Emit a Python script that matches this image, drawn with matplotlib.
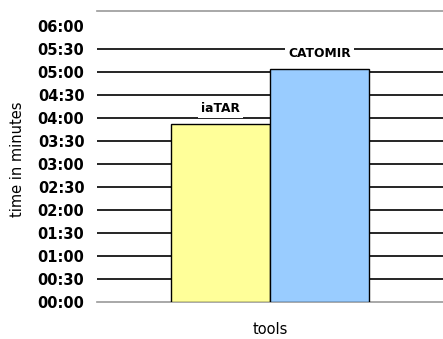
import matplotlib
matplotlib.use("Agg")
import matplotlib.pyplot as plt

categories = ["iaTAR", "CATOMIR"]
values_min = [3.87, 5.07]  # time in minutes
bar_colors = ["#FFFF99", "#99CCFF"]
tick_values = [0, 0.5, 1, 1.5, 2, 2.5, 3, 3.5, 4, 4.5, 5, 5.5, 6]
tick_labels = ["00:00", "00:30", "01:00", "01:30", "02:00", "02:30", "03:00",
               "03:30", "04:00", "04:30", "05:00", "05:30", "06:00"]

fig = plt.figure(figsize=(4.43, 3.39), dpi=100)
ax = fig.add_axes([97/443, 1 - 302/339, 1 - 97/443, (302 - 11)/339])

x = list(range(len(categories)))
bars = ax.bar(x, values_min, width=1.0, color=bar_colors, edgecolor="black",
              linewidth=1.0, zorder=3)
for xi, v, name in zip(x, values_min, categories):
    ax.annotate(name, (xi, v), xytext=(0, 11), textcoords="offset points",
                ha="center", va="center", fontsize=8.8, fontweight="bold",
                bbox=dict(boxstyle="square,pad=0.25", fc="white", ec="none"),
                zorder=4)

ax.set_xlim(-1.247, 2.247)
ax.set_ylim(0, 6.33)
ax.set_yticks(tick_values)
ax.set_yticklabels(tick_labels, fontsize=10.5, fontweight="bold")
ax.set_xticks([])
ax.tick_params(axis="y", length=0, pad=9)
ax.set_axisbelow(True)
ax.yaxis.grid(True, color="black", linewidth=1.2)
gl = ax.get_ygridlines()
gl[0].set_visible(False)
gl[-1].set_visible(False)

for s in ["left", "right"]:
    ax.spines[s].set_visible(False)
ax.spines["top"].set_color("#999999")
ax.spines["bottom"].set_color("#999999")
ax.spines["top"].set_linewidth(1.2)
ax.spines["bottom"].set_linewidth(1.2)

ax.set_ylabel("time in minutes", fontsize=10.5)
ax.set_xlabel("tools", fontsize=10.5)
ax.yaxis.set_label_coords(-0.207, 0.49)
ax.xaxis.set_label_coords(0.5, -0.068)
ax.xaxis.label.set_va("top")

fig.savefig("out.png", dpi=100)
